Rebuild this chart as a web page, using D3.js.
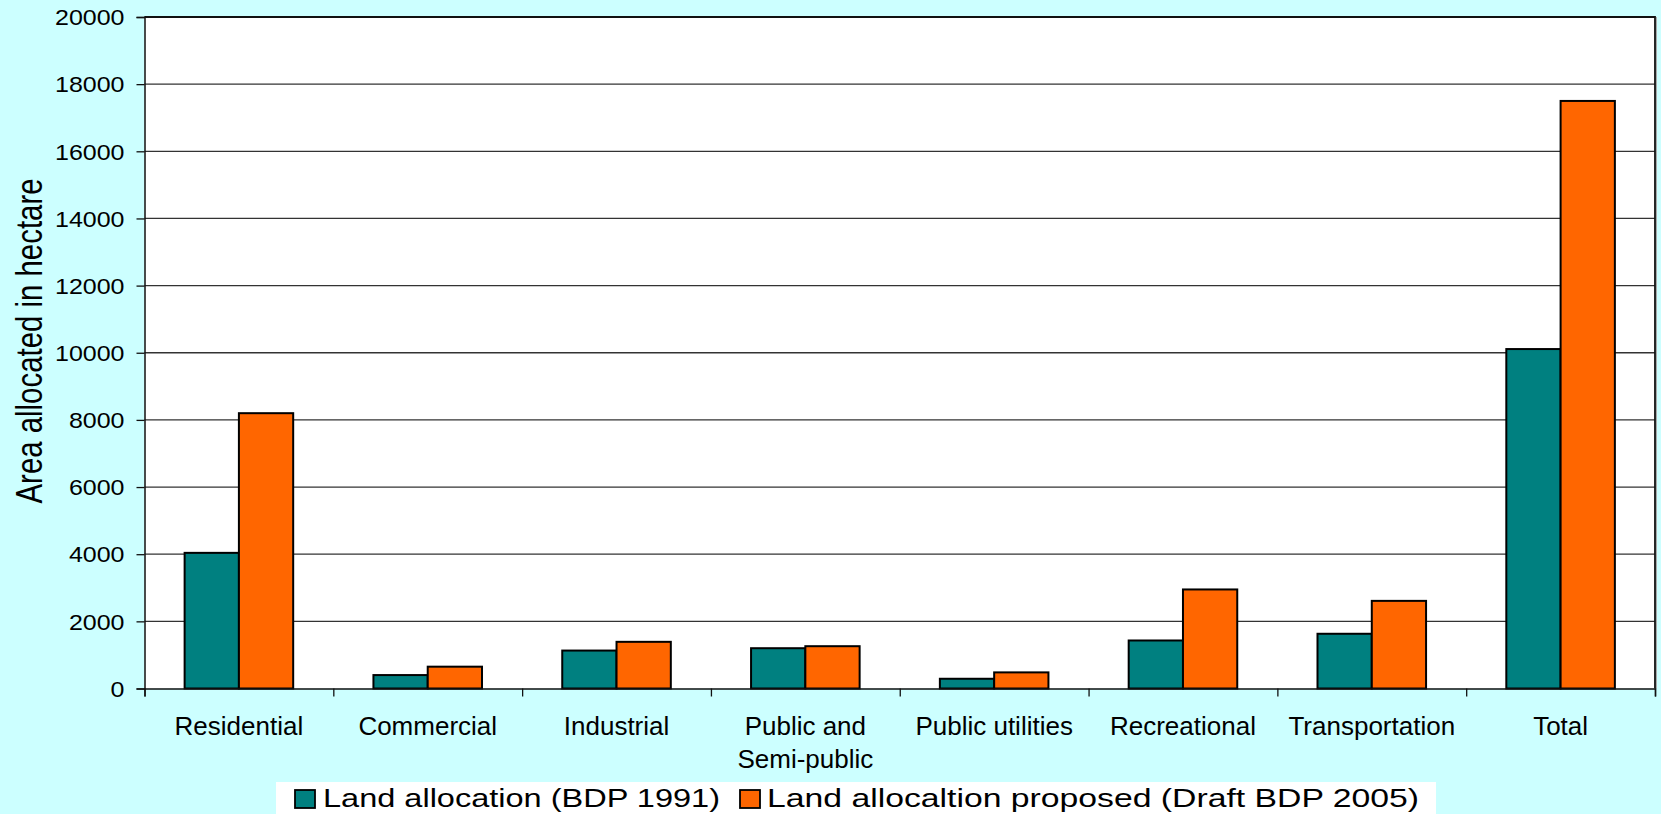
<!DOCTYPE html>
<html>
<head>
<meta charset="utf-8">
<script src="https://cdn.jsdelivr.net/npm/d3@7"></script>
<style>
  html, body { margin: 0; padding: 0; background: #CCFFFF; overflow: hidden; }
  svg { display: block; }
  text { font-family: "Liberation Sans", Arial, sans-serif; fill: #000; }
</style>
</head>
<body>
<svg id="chart" width="1661" height="814"></svg>
<script>
// Land use categories and allocated area (hectare)
const categories = [
  ["Residential"], ["Commercial"], ["Industrial"], ["Public and", "Semi-public"],
  ["Public utilities"], ["Recreational"], ["Transportation"], ["Total"]
];
const seriesNames = ["Land allocation (BDP 1991)", "Land allocaltion proposed (Draft BDP 2005)"];
const bdp1991 = [4040, 400, 1130, 1200, 290, 1430, 1630, 10110];
const bdp2005 = [8200, 650, 1390, 1260, 480, 2950, 2610, 17500];
const yTicks = [0, 2000, 4000, 6000, 8000, 10000, 12000, 14000, 16000, 18000, 20000];
const colors = ["#008080", "#FF6600"];
const yTitle = "Area allocated in hectare";

const svg = d3.select("#chart");
const plot = { left: 144.5, right: 1655, top: 17, bottom: 688.5 };

const keys = categories.map(c => c.join(" "));
const rows = keys.map((k, i) => ({ key: k, lines: categories[i], values: [bdp1991[i], bdp2005[i]] }));

const x0 = d3.scaleBand().domain(keys).range([plot.left, plot.right])
  .paddingInner(0.425).paddingOuter(0.2125);
const x1 = d3.scaleBand().domain([0, 1]).range([0, x0.bandwidth()]);
const y = d3.scaleLinear().domain([0, 20000]).range([plot.bottom, plot.top]);

// plot background
svg.append("rect")
  .attr("x", plot.left).attr("y", plot.top)
  .attr("width", plot.right - plot.left).attr("height", plot.bottom - plot.top)
  .attr("fill", "#fff");

// horizontal gridlines
svg.append("g").selectAll("line").data(yTicks.slice(1)).join("line")
  .attr("x1", plot.left).attr("x2", plot.right)
  .attr("y1", d => y(d)).attr("y2", d => y(d))
  .attr("stroke", "#333").attr("stroke-width", 1.3);

// plot frame (top and right)
svg.append("path")
  .attr("d", `M${plot.left},${plot.top}H${plot.right}V${plot.bottom}`)
  .attr("fill", "none").attr("stroke", "#111").attr("stroke-width", 1.8);
svg.append("line")
  .attr("x1", plot.right + 1.5).attr("x2", plot.right + 1.5)
  .attr("y1", plot.top).attr("y2", plot.bottom)
  .attr("stroke", "#aaa").attr("stroke-width", 1);

// bars
const groups = svg.append("g").selectAll("g").data(rows).join("g")
  .attr("transform", d => `translate(${x0(d.key)},0)`);
groups.selectAll("rect").data(d => d.values.map((v, i) => ({ v, i }))).join("rect")
  .attr("x", d => x1(d.i))
  .attr("width", x1.bandwidth())
  .attr("y", d => y(d.v))
  .attr("height", d => y(0) - y(d.v))
  .attr("fill", d => colors[d.i])
  .attr("stroke", "#000").attr("stroke-width", 2);

// y axis
const yAxis = d3.axisLeft(y).tickValues(yTicks).tickSize(8).tickPadding(12).tickFormat(d3.format("d"));
const gy = svg.append("g").attr("transform", `translate(${plot.left},0)`).call(yAxis);
gy.select(".domain").attr("stroke", "#111").attr("stroke-width", 1.5);
gy.selectAll(".tick line").attr("stroke", "#111").attr("stroke-width", 1.3);
gy.selectAll(".tick text")
  .style("font-family", '"Liberation Sans", Arial, sans-serif')
  .attr("font-size", 21.5).attr("dy", "0.36em")
  .attr("textLength", d => String(d).length * 13.9)
  .attr("lengthAdjust", "spacingAndGlyphs");

// x axis: tick marks between categories
const xEdges = d3.scaleLinear().domain([0, keys.length]).range([plot.left, plot.right]);
const xAxis = d3.axisBottom(xEdges).tickValues(d3.range(0, keys.length + 1)).tickSize(8).tickFormat("");
const gx = svg.append("g").attr("transform", `translate(0,${plot.bottom})`).call(xAxis);
gx.select(".domain").attr("stroke", "#111").attr("stroke-width", 1.5);
gx.selectAll(".tick line").attr("stroke", "#111").attr("stroke-width", 1.3);

// category labels
const catLabels = svg.append("g").selectAll("text").data(rows).join("text")
  .attr("x", d => x0(d.key) + x0.bandwidth() / 2)
  .attr("y", 735)
  .attr("text-anchor", "middle")
  .attr("font-size", 26);
catLabels.selectAll("tspan").data(d => d.lines).join("tspan")
  .attr("x", function () { return d3.select(this.parentNode).attr("x"); })
  .attr("dy", (d, i) => i === 0 ? 0 : 32.5)
  .text(d => d);

// y axis title
svg.append("text")
  .attr("transform", "translate(41.5,341) rotate(-90)")
  .attr("text-anchor", "middle")
  .attr("font-size", 37)
  .style("font-family", '"Liberation Sans Narrow", "Arial Narrow", "Liberation Sans", Arial, sans-serif')
  .attr("textLength", 325)
  .attr("lengthAdjust", "spacingAndGlyphs")
  .text(yTitle);

// legend
const legend = svg.append("g");
legend.append("rect")
  .attr("x", 276).attr("y", 782).attr("width", 1160).attr("height", 40)
  .attr("fill", "#fff");
const legendItems = [
  { sx: 295, tx: 323, len: 397 },
  { sx: 740, tx: 767, len: 652 }
];
legendItems.forEach((it, i) => {
  legend.append("rect")
    .attr("x", it.sx).attr("y", 790).attr("width", 20).attr("height", 18)
    .attr("fill", colors[i]).attr("stroke", "#000").attr("stroke-width", 1.8);
  legend.append("text")
    .attr("x", it.tx).attr("y", 807)
    .attr("font-size", 25.6)
    .attr("textLength", it.len)
    .attr("lengthAdjust", "spacingAndGlyphs")
    .text(seriesNames[i]);
});
</script>
</body>
</html>
